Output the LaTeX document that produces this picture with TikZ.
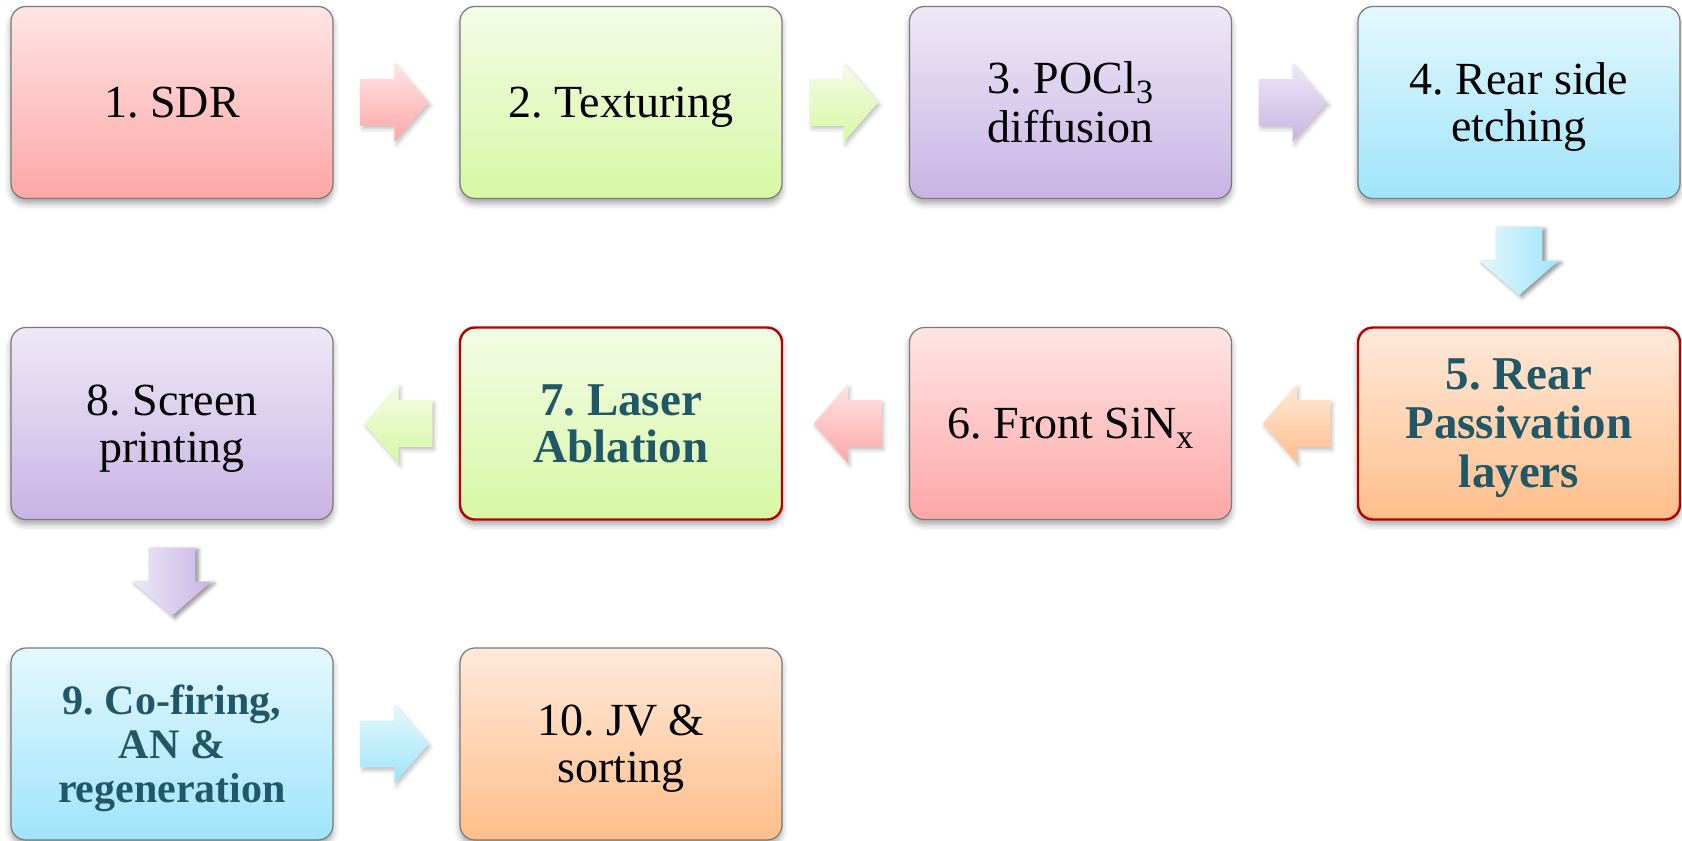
\documentclass[tikz,border=0pt]{standalone}
\usepackage{fontspec}
\setmainfont{Liberation Serif}
\usetikzlibrary{shapes.arrows,calc,shadows.blur}

\definecolor{pinkT}{HTML}{FFE5E5}
\definecolor{pinkB}{HTML}{FFA6A6}
\definecolor{greenT}{HTML}{F3FCE6}
\definecolor{greenB}{HTML}{D7F8A4}
\definecolor{lilacT}{HTML}{EEE8F7}
\definecolor{lilacB}{HTML}{C8B4E4}
\definecolor{cyanT}{HTML}{E4F8FE}
\definecolor{cyanB}{HTML}{9FE4FA}
\definecolor{peachT}{HTML}{FFE9DA}
\definecolor{peachB}{HTML}{FFBE8A}
\definecolor{edgegray}{HTML}{7A7A7A}
\definecolor{edgered}{HTML}{B80000}
\definecolor{tealtext}{HTML}{215868}

\frenchspacing
% lowered index (POCl3, SiNx)
\newcommand{\lowidx}[1]{\raisebox{-5pt}{\fontsize{17}{17}\selectfont #1}}

\begin{document}
\begin{tikzpicture}[x=50pt,y=50pt]

\tikzstyle{stage}=[shape=rectangle, rounded corners=7.5pt,
    draw=edgegray, line width=0.6pt, align=center,
    minimum width=161pt, minimum height=96pt, inner sep=2pt, text depth=0pt,
    font=\fontsize{23}{23.5}\selectfont,
    blur shadow={shadow xshift=0pt, shadow yshift=-2.5pt, shadow blur radius=3pt, shadow opacity=35}]
\tikzstyle{keystage}=[stage, text=tealtext, font=\bfseries\fontsize{23.5}{24.5}\selectfont]
\tikzstyle{marked}=[draw=edgered, line width=1.2pt]
\tikzstyle{flow}=[single arrow, draw=none, inner sep=0pt,
    text height=23pt, text depth=0pt, minimum height=34pt,
    single arrow head extend=8pt, single arrow tip angle=98,
    blur shadow={shadow xshift=1pt, shadow yshift=-1.5pt, shadow blur radius=2pt, shadow opacity=25}]
% the arrow body sits ahead of its centre, so pull it back by 6pt
\tikzstyle{rightflow}=[flow, xshift=-6pt]
\tikzstyle{leftflow}=[flow, shape border rotate=180, xshift=6pt]
\tikzstyle{downflow}=[flow, yshift=6pt, rotate=-90,
    blur shadow={shadow xshift=1.5pt, shadow yshift=-1pt, shadow blur radius=2pt, shadow opacity=25}]

\tikzstyle{pinkish}=[top color=pinkT, bottom color=pinkB]
\tikzstyle{greenish}=[top color=greenT, bottom color=greenB]
\tikzstyle{lilac}=[top color=lilacT, bottom color=lilacB]
\tikzstyle{cyanish}=[top color=cyanT, bottom color=cyanB]
\tikzstyle{peach}=[top color=peachT, bottom color=peachB]
% turned arrows: their left side ends up on top
\tikzstyle{lilacdown}=[left color=lilacT, right color=lilacB]
\tikzstyle{cyandown}=[left color=cyanT, right color=cyanB]

\useasboundingbox (0,0) rectangle (16.82,-8.41);

  % first row
  \node[stage, pinkish] (s1) at (1.72,-1.025) {1. SDR};
  \node[stage, greenish] (s2) at (6.21,-1.025) {2. Texturing};
  \node[stage, lilac, font=\fontsize{23}{24.5}\selectfont] (s3) at (10.705,-1.025) {3. POCl\lowidx{3}\\diffusion};
  \node[stage, cyanish] (s4) at (15.19,-1.025) {4. Rear side\\etching};

  % second row
  \node[keystage, marked, peach] (s5) at (15.19,-4.235) {5. Rear\\Passivation\\layers};
  \node[stage, pinkish] (s6) at (10.705,-4.235) {6. Front SiN\lowidx{x}};
  \node[keystage, marked, greenish, font=\bfseries\fontsize{23.5}{23.5}\selectfont] (s7) at (6.21,-4.235) {7. Laser\\Ablation};
  \node[stage, lilac] (s8) at (1.72,-4.235) {8. Screen\\printing};

  % third row
  \node[keystage, cyanish, font=\bfseries\fontsize{21}{22}\selectfont] (s9) at (1.72,-7.44) {9. Co-firing,\\AN \&\\regeneration};
  \node[stage, peach] (s10) at (6.21,-7.44) {10. JV \&\\sorting};

  % arrows
  \node[rightflow, pinkish] (a1) at ($(s1)!0.5!(s2)$) {};
  \node[rightflow, greenish] (a2) at ($(s2)!0.5!(s3)$) {};
  \node[rightflow, lilac] (a3) at ($(s3)!0.5!(s4)$) {};
  \node[downflow, cyandown] (a4) at ($(s4)!0.5!(s5)$) {};
  \node[leftflow, peach] (a5) at ($(s5)!0.5!(s6)$) {};
  \node[leftflow, pinkish] (a6) at ($(s6)!0.5!(s7)$) {};
  \node[leftflow, greenish] (a7) at ($(s7)!0.5!(s8)$) {};
  \node[downflow, lilacdown] (a8) at ($(s8)!0.5!(s9)$) {};
  \node[rightflow, cyanish] (a9) at ($(s9)!0.5!(s10)$) {};

\end{tikzpicture}
\end{document}
